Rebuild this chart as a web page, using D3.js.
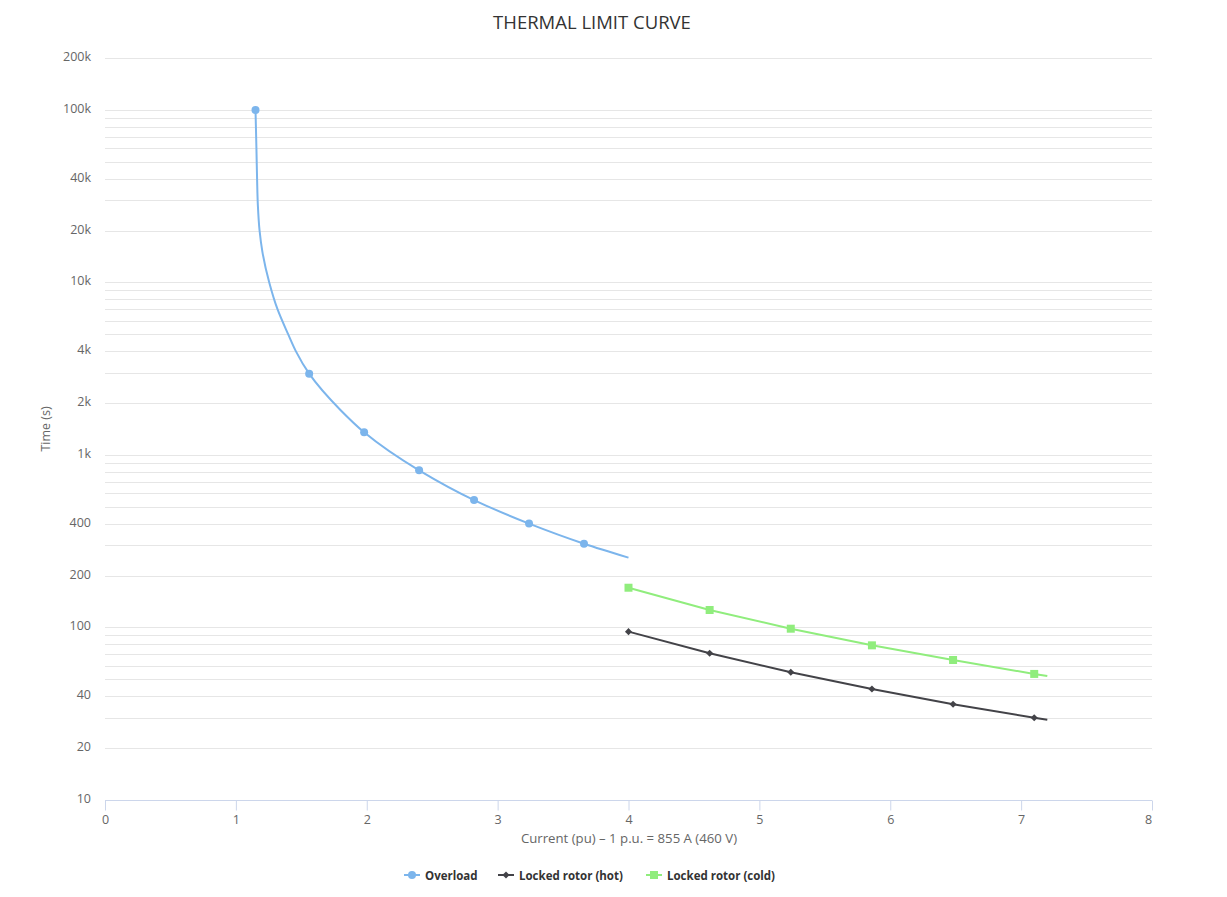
<!DOCTYPE html>
<html>
<head>
<meta charset="utf-8">
<script src="https://cdn.jsdelivr.net/npm/d3@7"></script>
<style>
  html, body { margin: 0; padding: 0; background: #ffffff; }
  svg { display: block; font-family: "Open Sans", "DejaVu Sans", sans-serif; }
</style>
</head>
<body>
<svg id="chart" width="1227" height="897"></svg>
<script>
// ---------- data ----------
const chartTitle = "THERMAL LIMIT CURVE";
const xTitle = "Current (pu) \u2013 1 p.u. = 855 A (460 V)";
const yTitle = "Time (s)";

const xTicks = [0, 1, 2, 3, 4, 5, 6, 7, 8];
const yTickValues = [10, 20, 40, 100, 200, 400, 1000, 2000, 4000, 10000, 20000, 40000, 100000, 200000];
const yTickLabels = ["10", "20", "40", "100", "200", "400", "1k", "2k", "4k", "10k", "20k", "40k", "100k", "200k"];
const yMinorValues = [30, 50, 60, 70, 80, 90, 300, 500, 600, 700, 800, 900,
  3000, 5000, 6000, 7000, 8000, 9000, 30000, 50000, 60000, 70000, 80000, 90000];

const seriesNames = ["Overload", "Locked rotor (hot)", "Locked rotor (cold)"];

// Overload curve (current pu, time s)
const overloadX = [1.15, 1.157, 1.162, 1.168, 1.181, 1.203, 1.255, 1.318, 1.400, 1.458, 1.56, 1.797, 1.98, 2.40, 2.82, 3.24, 3.66, 4.0];
const overloadY = [100000, 60000, 40000, 28000, 20000, 15000, 10000, 7000, 5000, 4000, 2960, 1830, 1354, 815, 548, 400, 306, 254];
// points of the overload curve that carry a marker
const overloadMarkerX = [1.15, 1.56, 1.98, 2.40, 2.82, 3.24, 3.66];
const overloadMarkerY = [100000, 2960, 1354, 815, 548, 400, 306];

const lockedX = [4.0, 4.62, 5.24, 5.86, 6.48, 7.10, 7.2];
const lockedHotY = [94.6, 70.9, 55.0, 44.0, 35.9, 30.0, 29.2];
const lockedColdY = [170, 126.3, 98.4, 78.8, 64.8, 53.8, 52.3];
const lockedMarkerCount = 6; // last point has no marker

// ---------- layout ----------
const plot = { left: 105, right: 1152, top: 58, bottom: 800 };
const colors = ["#7cb5ec", "#434348", "#90ed7d"];

const svg = d3.select("#chart");

const x = d3.scaleLinear().domain([0, 8]).range([plot.left, plot.right]);
const y = d3.scaleLog().domain([10, 200000]).range([plot.bottom, plot.top]);

// gridlines
const grid = svg.append("g");
grid.selectAll("line.minor").data(yMinorValues).join("line")
  .attr("x1", plot.left).attr("x2", plot.right)
  .attr("y1", d => Math.round(y(d)) + 0.5).attr("y2", d => Math.round(y(d)) + 0.5)
  .attr("stroke", "#e6e6e6").attr("stroke-width", 1);
grid.selectAll("line.major").data(yTickValues.filter(v => v > 10)).join("line")
  .attr("x1", plot.left).attr("x2", plot.right)
  .attr("y1", d => Math.round(y(d)) + 0.5).attr("y2", d => Math.round(y(d)) + 0.5)
  .attr("stroke", "#e6e6e6").attr("stroke-width", 1);

// y axis labels
const yAxis = d3.axisLeft(y).tickValues(yTickValues)
  .tickFormat((d, i) => yTickLabels[i]).tickSize(0).tickPadding(14);
const yG = svg.append("g").attr("transform", `translate(${plot.left},0)`).call(yAxis);
yG.select(".domain").remove();
yG.selectAll("text").attr("fill", "#666666").style("font-size", "12.5px")
  .style("font-family", "'Open Sans', sans-serif").attr("dy", "0.2em");

// x axis
const xAxis = d3.axisBottom(x).tickValues(xTicks).tickFormat(d3.format("d")).tickSize(10).tickPadding(5);
const xG = svg.append("g").attr("transform", `translate(0,${plot.bottom + 0.5})`).call(xAxis);
xG.select(".domain").attr("stroke", "#ccd6eb").attr("d", `M${plot.left},0H${plot.right}`);
xG.selectAll(".tick line").attr("stroke", "#ccd6eb");
xG.selectAll("text").attr("fill", "#666666").style("font-size", "12.5px")
  .style("font-family", "'Open Sans', sans-serif");
xG.selectAll(".tick").filter(d => d === 8).select("text").attr("dx", "-4");

// titles
svg.append("text").attr("x", 592).attr("y", 29).attr("text-anchor", "middle")
  .attr("fill", "#333333").style("font-size", "18.5px").text(chartTitle);
svg.append("text").attr("x", 629).attr("y", 843).attr("text-anchor", "middle")
  .attr("fill", "#666666").style("font-size", "13.2px").text(xTitle);
svg.append("text").attr("transform", `translate(50,${(plot.top + plot.bottom) / 2}) rotate(-90)`)
  .attr("text-anchor", "middle").attr("fill", "#666666").style("font-size", "12.5px").text(yTitle);

// series lines
const lineGen = d3.line().x(d => x(d[0])).y(d => y(d[1])).curve(d3.curveMonotoneY);
const overloadPts = overloadX.map((v, i) => [v, overloadY[i]]);
const hotPts = lockedX.map((v, i) => [v, lockedHotY[i]]);
const coldPts = lockedX.map((v, i) => [v, lockedColdY[i]]);

const seriesG = svg.append("g");
seriesG.append("path").datum(overloadPts).attr("d", lineGen)
  .attr("fill", "none").attr("stroke", colors[0]).attr("stroke-width", 2).attr("stroke-linejoin", "round");
seriesG.append("path").datum(hotPts).attr("d", d3.line().x(d => x(d[0])).y(d => y(d[1])))
  .attr("fill", "none").attr("stroke", colors[1]).attr("stroke-width", 2).attr("stroke-linejoin", "round");
seriesG.append("path").datum(coldPts).attr("d", d3.line().x(d => x(d[0])).y(d => y(d[1])))
  .attr("fill", "none").attr("stroke", colors[2]).attr("stroke-width", 2).attr("stroke-linejoin", "round");

// markers
const symCircle = d3.symbol().type(d3.symbolCircle).size(Math.PI * 16);
const symDiamond = d3.symbol().type(d3.symbolDiamond2).size(32);
const symSquare = d3.symbol().type(d3.symbolSquare).size(64);

seriesG.selectAll("path.m0").data(overloadMarkerX.map((v, i) => [v, overloadMarkerY[i]])).join("path")
  .attr("transform", d => `translate(${x(d[0])},${y(d[1])})`).attr("d", symCircle).attr("fill", colors[0]);
seriesG.selectAll("path.m1").data(hotPts.slice(0, lockedMarkerCount)).join("path")
  .attr("transform", d => `translate(${x(d[0])},${y(d[1])})`).attr("d", symDiamond).attr("fill", colors[1]);
seriesG.selectAll("path.m2").data(coldPts.slice(0, lockedMarkerCount)).join("path")
  .attr("transform", d => `translate(${x(d[0])},${y(d[1])})`).attr("d", symSquare).attr("fill", colors[2]);

// legend
const legendStarts = [404, 498, 646];
const legendSyms = [symCircle, symDiamond, symSquare];
const legendG = svg.append("g");
seriesNames.forEach((name, i) => {
  const g = legendG.append("g").attr("transform", `translate(${legendStarts[i]},875)`);
  g.append("line").attr("x1", 0).attr("x2", 16).attr("y1", 0).attr("y2", 0)
    .attr("stroke", colors[i]).attr("stroke-width", 2);
  g.append("path").attr("transform", "translate(8,0)").attr("d", legendSyms[i]).attr("fill", colors[i]);
  g.append("text").attr("x", 21).attr("y", 4.5).attr("fill", "#333333")
    .style("font-size", "11.5px").style("font-weight", "bold").text(name);
});
</script>
</body>
</html>
